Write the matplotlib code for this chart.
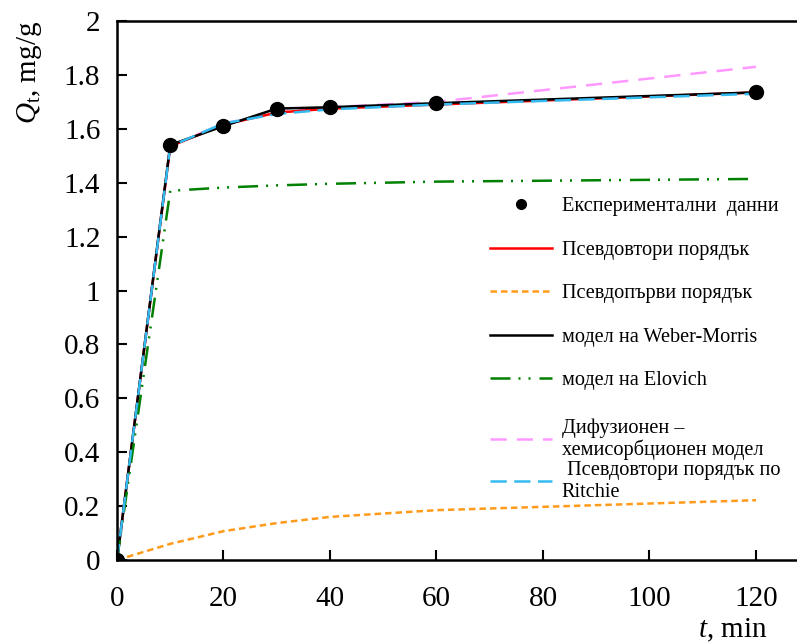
import matplotlib
matplotlib.use("Agg")
import matplotlib.pyplot as plt

plt.rcParams['font.family'] = ['Liberation Serif', 'DejaVu Serif']
plt.rcParams['mathtext.fontset'] = 'custom'
plt.rcParams['mathtext.rm'] = 'Liberation Serif'
plt.rcParams['mathtext.it'] = 'Liberation Serif:italic'

# time, min
t = [0, 10, 20, 30, 40, 60, 120]

# experimental data and model curves, mg/g
q_exp = [0, 1.54, 1.61, 1.675, 1.68, 1.695, 1.735]
q_pso = [0, 1.535, 1.615, 1.66, 1.675, 1.69, 1.735]
q_pfo = [0, 0.06, 0.107, 0.137, 0.16, 0.185, 0.222]
q_wm = [0, 1.54, 1.61, 1.675, 1.68, 1.695, 1.735]
q_elo = [0, 1.37, 1.382, 1.39, 1.396, 1.404, 1.414]
q_dc = [0, 1.535, 1.62, 1.66, 1.68, 1.70, 1.83]
q_rit = [0, 1.535, 1.62, 1.655, 1.672, 1.69, 1.73]

labels = ["Експериментални  данни",
          "Псевдовтори порядък",
          "Псевдопърви порядък",
          "модел на Weber-Morris",
          "модел на Elovich",
          "Дифузионен –\nхемисорбционен модел",
          " Псевдовтори порядък по\nRitchie"]

fig = plt.figure(figsize=(7.97, 6.44), dpi=100)
ax = fig.add_axes([0.1468, 0.1304, 0.8532, 0.837])

lw = 1.8
l_dc, = ax.plot(t, q_dc, color='#FF99FF', lw=lw, dashes=(6.5, 4))
l_pso, = ax.plot(t, q_pso, color='#FF0000', lw=lw)
l_pfo, = ax.plot(t, q_pfo, color='#FF9A1A', lw=lw, dashes=(2.6, 1.6))
l_wm, = ax.plot(t, q_wm, color='black', lw=lw)
l_elo, = ax.plot(t, q_elo, color='#008000', lw=lw,
                 dashes=(8, 3.2, 0.8, 3.2, 0.8, 3.6))
l_rit, = ax.plot(t, q_rit, color='#33BBF0', lw=lw, dashes=(6.5, 3))
l_exp, = ax.plot(t, q_exp, 'o', color='black', ms=10, zorder=5)

handles = [l_exp, l_pso, l_pfo, l_wm, l_elo, l_dc, l_rit]
leg_kw = dict(loc='upper left', frameon=False, fontsize=14.6,
              handlelength=3.1, handletextpad=0.45, borderpad=0)

# single-line entries
leg1 = ax.legend(handles[:5], labels[:5], bbox_to_anchor=(0.533, 0.692),
                 labelspacing=1.2, **leg_kw)
leg1.legend_handles[0].set_markersize(7)
ax.add_artist(leg1)

# two-line entries, packed tighter
leg2 = ax.legend(handles[5:], labels[5:], bbox_to_anchor=(0.533, 0.282),
                 labelspacing=0.05, **leg_kw)
for txt in leg2.get_texts():
    txt.set_linespacing(1.15)

ax.set_xlim(0, 127.7)
ax.set_ylim(0, 2)
ax.set_xticks(range(0, 121, 20))
ax.set_yticks([i * 0.2 for i in range(11)])
ax.set_yticklabels(['0', '0.2', '0.4', '0.6', '0.8', '1', '1.2', '1.4',
                    '1.6', '1.8', '2'])
ax.tick_params(direction='in', length=7, width=1.5, labelsize=21)
ax.tick_params(axis='y', pad=12)
ax.tick_params(axis='x', pad=19)
ax.spines['right'].set_visible(False)
for s in ['left', 'bottom', 'top']:
    ax.spines[s].set_linewidth(1.8)

ax.set_ylabel(r'$Q_\mathrm{t}$, mg/g', fontsize=21)
ax.yaxis.set_label_coords(-0.108, 0.905)
ax.set_xlabel(r'$t$, min', fontsize=21)
ax.xaxis.set_label_coords(0.905, -0.105)

fig.savefig('out.png', dpi=100)
